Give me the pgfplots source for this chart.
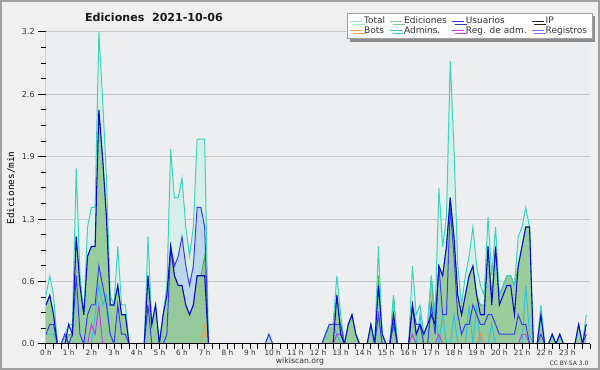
\documentclass[border=0pt]{standalone}
\usepackage{fontspec}
\setmainfont{DejaVu Sans}
\newfontfamily\monofont{DejaVu Sans Mono}
\usepackage{pgfplots}
\pgfplotsset{compat=1.18}
\usepackage{pgfplotstable}
\usetikzlibrary{shadows}

\definecolor{outerbg}{HTML}{F0F0F0}
\definecolor{plotbg}{HTML}{EDEEF0}
\definecolor{framec}{HTML}{A0A0A0}
\definecolor{gridc}{HTML}{C8C8C8}
\definecolor{totfill}{HTML}{D6EFE9}
\definecolor{totline}{HTML}{3CD2C4}
\definecolor{usefill}{HTML}{BCD7E9}
\definecolor{useline}{HTML}{3C3CF2}
\definecolor{edfill}{HTML}{8CC78C}
\definecolor{edline}{HTML}{3FAF3F}
\definecolor{ipline}{HTML}{0C0CCC}
\definecolor{botc}{HTML}{F0A040}
\definecolor{admc}{HTML}{28C4E0}
\definecolor{regadmc}{HTML}{C838E0}
\definecolor{regc}{HTML}{7070F0}
\definecolor{txtc}{HTML}{333333}

\pgfplotstableread{
i T Ed U IP B A RA R
0 0.5 0.4 0.1 0.4 0 0.1 0 0
1 0.7 0.5 0.2 0.5 0 0.1 0 0
2 0.5 0.3 0.2 0.3 0 0.1 0 0
3 0 0 0 0 0 0 0 0
4 0 0 0 0 0 0 0 0
5 0.1 0 0.1 0 0 0 0 0.1
6 0.2 0.1 0 0.2 0 0 0 0
7 0.2 0.1 0.1 0.1 0 0 0 0
8 1.8 1.1 0.7 1.1 0 0 0 0
9 0.7 0.6 0.1 0.6 0 0 0 0
10 0.3 0.3 0 0.3 0 0 0 0
11 1.2 0.9 0.3 0.9 0 0 0 0
12 1.4 1.0 0.4 1.0 0 0 0.2 0
13 1.4 1.0 0.4 1.0 0 0.3 0.1 0
14 3.2 2.4 0.8 2.4 0 0.6 0.4 0
15 2.5 1.9 0.6 1.9 0 0.4 0 0
16 1.7 1.3 0.4 1.3 0 0.5 0 0
17 0.5 0.4 0.1 0.4 0 0.1 0 0
18 0.4 0.4 0 0.4 0 0 0 0
19 1.0 0.6 0.4 0.6 0 0 0 0
20 0.4 0.3 0.1 0.3 0 0 0 0
21 0.4 0.3 0.1 0.3 0 0 0 0
22 0 0 0 0 0 0 0 0
23 0 0 0 0 0 0 0 0
24 0 0 0 0 0 0 0 0
25 0 0 0 0 0 0 0 0
26 0 0 0 0 0 0 0 0
27 1.1 0.7 0.4 0.7 0 0 0 0
28 0.2 0.2 0 0.2 0 0 0 0
29 0.4 0.4 0 0.4 0 0 0 0
30 0 0 0 0 0 0 0 0
31 0.3 0.3 0 0.3 0 0 0 0
32 0.6 0.5 0.1 0.5 0 0 0 0
33 2.0 1.0 1.0 1.0 0 0 0 0
34 1.5 0.7 0.8 0.7 0 0 0 0
35 1.5 0.6 0.9 0.6 0 0 0 0
36 1.7 0.6 1.1 0.6 0 0 0 0
37 1.2 0.4 0.8 0.4 0 0 0 0
38 0.9 0.3 0.6 0.3 0 0 0 0
39 1.2 0.4 0.8 0.4 0 0 0 0
40 2.1 0.7 1.4 0.7 0 0 0 0
41 2.1 0.7 1.4 0.7 0 0 0 0
42 2.1 0.9 1.2 0.7 0.2 0 0 0
43 0 0 0 0 0 0 0 0
44 0 0 0 0 0 0 0 0
45 0 0 0 0 0 0 0 0
46 0 0 0 0 0 0 0 0
47 0 0 0 0 0 0 0 0
48 0 0 0 0 0 0 0 0
49 0 0 0 0 0 0 0 0
50 0 0 0 0 0 0 0 0
51 0 0 0 0 0 0 0 0
52 0 0 0 0 0 0 0 0
53 0 0 0 0 0 0 0 0
54 0 0 0 0 0 0 0 0
55 0 0 0 0 0 0 0 0
56 0 0 0 0 0 0 0 0
57 0 0 0 0 0 0 0 0
58 0 0 0 0 0 0 0 0
59 0.1 0 0.1 0 0 0 0 0
60 0 0 0 0 0 0 0 0
61 0 0 0 0 0 0 0 0
62 0 0 0 0 0 0 0 0
63 0 0 0 0 0 0 0 0
64 0 0 0 0 0 0 0 0
65 0 0 0 0 0 0 0 0
66 0 0 0 0 0 0 0 0
67 0 0 0 0 0 0 0 0
68 0 0 0 0 0 0 0 0
69 0 0 0 0 0 0 0 0
70 0 0 0 0 0 0 0 0
71 0 0 0 0 0 0 0 0
72 0 0 0 0 0 0 0 0
73 0 0 0 0 0 0 0 0
74 0.1 0.1 0.1 0 0 0.1 0 0
75 0.2 0.2 0.2 0 0 0.2 0 0
76 0.2 0.2 0.2 0 0 0.2 0 0
77 0.7 0.5 0.2 0.5 0 0.1 0.1 0
78 0.3 0.2 0.2 0.1 0 0 0.1 0
79 0 0 0 0 0 0 0 0
80 0.2 0.2 0 0.2 0 0 0 0
81 0.3 0.3 0 0.3 0 0 0 0
82 0.1 0.1 0 0.1 0 0 0 0
83 0 0 0 0 0 0 0 0
84 0 0 0 0 0 0 0 0
85 0 0 0 0 0 0 0 0
86 0.2 0.2 0 0.2 0 0 0 0
87 0 0 0 0 0 0 0 0
88 1.0 0.7 0.3 0.6 0 0.3 0 0
89 0.1 0.1 0 0.1 0 0 0 0
90 0 0 0 0 0 0 0 0
91 0 0 0 0 0 0 0 0
92 0.5 0.5 0.2 0.3 0 0 0 0
93 0 0 0 0 0 0 0 0
94 0 0 0 0 0 0 0 0
95 0 0 0 0 0 0 0 0
96 0 0 0 0 0 0 0 0
97 0.8 0.4 0.4 0.4 0 0 0.1 0
98 0.3 0.1 0.2 0.1 0 0 0 0
99 0.4 0.2 0.2 0.2 0 0.3 0 0
100 0.1 0.1 0 0.1 0 0 0 0
101 0.2 0.2 0 0.2 0 0 0 0
102 0.7 0.7 0.4 0.3 0 0.4 0 0
103 0.3 0.2 0.1 0.2 0 0.3 0 0
104 1.6 0.8 0.8 0.8 0 0 0.1 0
105 1.0 0.7 0.3 0.7 0 0.3 0 0
106 1.3 1.0 0.3 1.0 0 0 0 0
107 2.9 1.5 1.4 1.5 0 0 0 0
108 2.0 1.1 0.9 1.1 0 0.3 0 0
109 0.8 0.5 0.3 0.5 0 0 0 0
110 0.4 0.3 0.1 0.3 0 0 0 0
111 0.7 0.5 0.2 0.5 0 0 0 0
112 0.9 0.7 0.2 0.7 0 0.4 0 0
113 1.2 0.8 0.4 0.8 0 0 0 0
114 0.8 0.5 0.3 0.5 0 0.4 0 0
115 0.6 0.4 0.2 0.3 0.1 0 0.1 0
116 0.5 0.4 0.2 0.3 0 0 0 0
117 1.3 1.0 0.3 1.0 0 0 0 0
118 0.7 0.5 0.3 0.4 0 0.2 0 0
119 1.2 1.0 0.2 1.0 0 0 0 0
120 0.5 0.5 0.1 0.4 0 0 0 0
121 0.6 0.6 0.1 0.5 0 0 0 0
122 0.7 0.7 0.1 0.6 0 0 0 0
123 0.7 0.7 0.1 0.6 0 0 0 0
124 0.6 0.6 0.1 0.3 0 0 0 0
125 1.1 0.8 0.3 0.8 0 0 0 0
126 1.2 1.0 0.2 1.0 0 0 0.1 0
127 1.4 1.2 0.2 1.2 0 0.6 0.1 0
128 1.2 1.2 0 1.2 0 0.1 0 0
129 0 0 0 0 0 0 0 0
130 0 0 0 0 0 0 0 0
131 0.4 0.3 0.1 0.3 0 0 0 0
132 0 0 0 0 0 0 0 0
133 0 0 0 0 0 0 0 0
134 0.1 0.1 0 0.1 0 0 0 0
135 0 0 0 0 0 0 0 0
136 0.1 0.1 0 0.1 0 0 0 0
137 0 0 0 0 0 0 0 0
138 0 0 0 0 0 0 0 0
139 0 0 0 0 0 0 0 0
140 0 0 0 0 0 0 0 0
141 0.2 0.2 0 0.2 0 0 0 0
142 0 0 0 0 0 0 0 0
143 0.3 0.2 0.1 0.2 0 0 0 0
}\data

\begin{document}
\begin{tikzpicture}
\fill[outerbg] (0pt,0pt) rectangle (450pt,277.5pt);
\draw[framec, line width=1.5pt] (0.75pt,0.75pt) rectangle (449.25pt,276.75pt);
\begin{axis}[
  at={(34.5pt,19.5pt)}, anchor=south west,
  scale only axis, width=408pt, height=234pt,
  xmin=0, xmax=144, ymin=0, ymax=3.2,
  axis x line*=bottom, axis y line*=left,
  axis line style={-, draw=none},
  axis background/.style={fill=plotbg},
  xtick={0,6,...,138},
  xticklabels={0 h,1 h,2 h,3 h,4 h,5 h,6 h,7 h,8 h,9 h,10 h,11 h,12 h,13 h,14 h,15 h,16 h,17 h,18 h,19 h,20 h,21 h,22 h,23 h},
  minor xtick={0,2,...,144},
  ytick={0,0.64,1.28,1.92,2.56,3.2},
  yticklabels={0.0,0.6,1.3,1.9,2.6,3.2},
  minor ytick={0.16,0.32,0.48,0.8,0.96,1.12,1.44,1.6,1.76,2.08,2.24,2.4,2.72,2.88,3.04},
  tick align=outside,
  major tick length=6pt, minor tick length=3.5pt,
  tick style={black, line width=0.75pt},
  major x tick style={draw=none},
  ymajorgrids, major grid style={gridc, line width=0.75pt},
  xticklabel style={font=\fontsize{5.5}{6}\selectfont, text=txtc, yshift=5pt},
  yticklabel style={font=\fontsize{6}{7}\selectfont, text=txtc, xshift=1pt},
  ylabel={\monofont Ediciones/min},
  ylabel style={at={(axis description cs:-0.0643,0.5)}, anchor=center, font=\fontsize{7}{8}\selectfont, text=black},
  legend columns=4,
  legend cell align=left,
  legend image code/.code={\draw[#1, line width=0.75pt] (0pt,0pt) -- (9pt,0pt);},
  legend style={at={(axis description cs:1.0055,1.061)}, anchor=north east,
    draw=framec, fill=white, line width=0.75pt,
    font=\fontsize{6.75}{7}\selectfont, text=txtc,
    inner xsep=2pt, inner ysep=1.2pt, row sep=-2.6pt,
    nodes={inner ysep=1.5pt},
    drop shadow={shadow xshift=2pt, shadow yshift=-2pt, fill=black!45, opacity=1},
    /tikz/every even column/.append style={column sep=1.5pt},
    /tikz/every odd column/.append style={column sep=-1pt}},
]
\addplot[draw=none, fill=totfill, forget plot] table[x=i,y=T]{\data} \closedcycle;
\addplot[draw=none, fill=usefill, forget plot] table[x=i,y=U]{\data} \closedcycle;
\addplot[draw=none, fill=edfill, fill opacity=0.82, forget plot] table[x=i,y=Ed]{\data} \closedcycle;
\addplot[edline, line width=0.6pt, forget plot] table[x=i,y=Ed]{\data};
\addplot[totline, line width=0.75pt, forget plot] table[x=i,y=T]{\data};
\addplot[admc, line width=0.7pt, forget plot] table[x=i,y=A]{\data};
\addplot[regadmc, line width=0.7pt, forget plot] table[x=i,y=RA]{\data};
\addplot[regc, line width=0.7pt, forget plot] table[x=i,y=R]{\data};
\addplot[botc, line width=0.7pt, forget plot] table[x=i,y=B]{\data};
\addplot[useline, line width=0.75pt, forget plot] table[x=i,y=U]{\data};
\addplot[ipline, line width=0.8pt, forget plot] table[x=i,y=IP]{\data};
\draw[black, line width=0.75pt] (rel axis cs:0,0) -- (rel axis cs:1,0);
\draw[black, line width=0.75pt] (rel axis cs:0,0) -- (rel axis cs:0,1);
\addlegendimage{color=totfill!70!totline}
\addlegendentry{Total}
\addlegendimage{color=edfill}
\addlegendentry{Ediciones}
\addlegendimage{color=useline!85!black}
\addlegendentry{Usuarios}
\addlegendimage{color=black!85}
\addlegendentry{IP}
\addlegendimage{color=botc}
\addlegendentry{Bots}
\addlegendimage{color=admc}
\addlegendentry{Admins.}
\addlegendimage{color=regadmc}
\addlegendentry{Reg. de adm.}
\addlegendimage{color=regc}
\addlegendentry{Registros}
\end{axis}
\node[font=\bfseries\fontsize{8.3}{9}\selectfont, text=black!90] at (115.5pt,264.75pt) {Ediciones\ \ 2021-10-06};
\node[font=\fontsize{5.8}{6}\selectfont, text=txtc] at (225pt,6.4pt) {wikiscan.org};
\node[font=\fontsize{4.5}{5}\selectfont, text=txtc] at (426.75pt,5.25pt) {CC BY-SA 3.0};
\end{tikzpicture}
\end{document}
